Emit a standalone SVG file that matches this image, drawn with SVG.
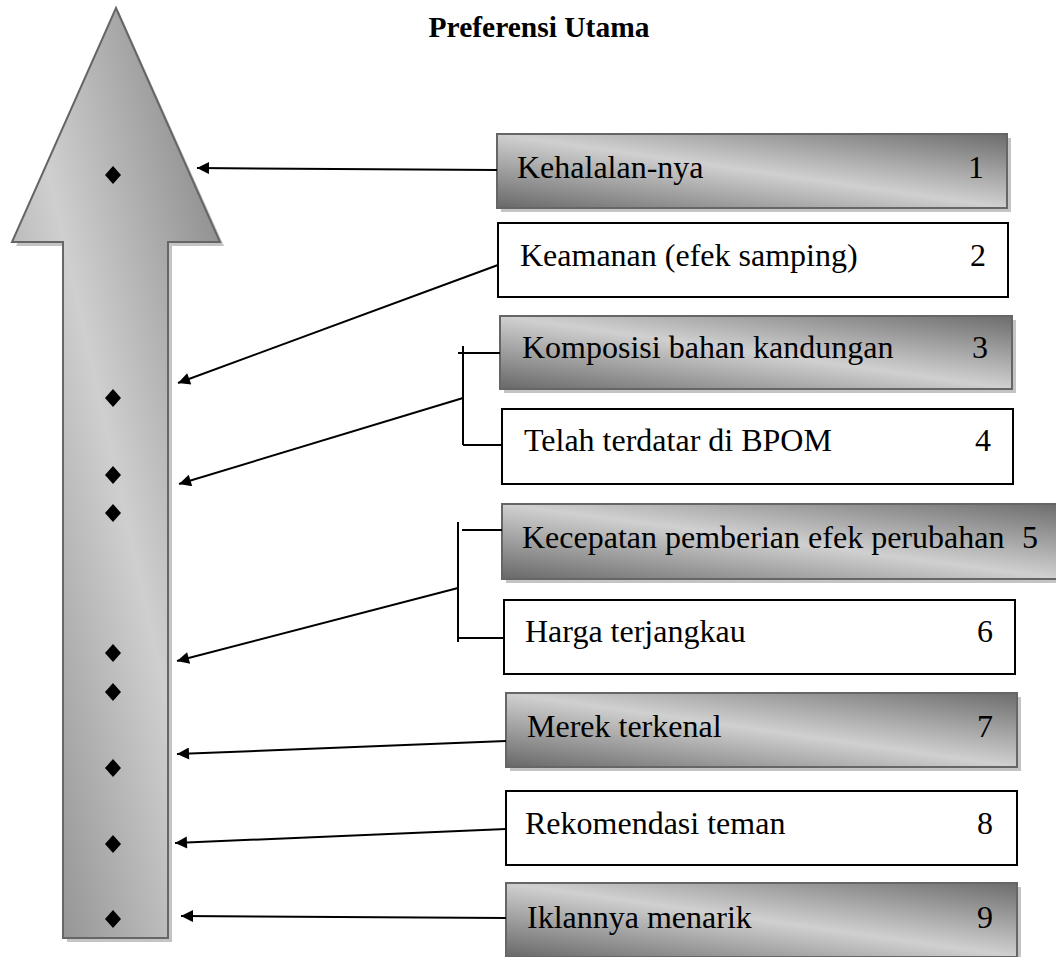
<svg xmlns="http://www.w3.org/2000/svg" width="1056" height="957" viewBox="0 0 1056 957">
<defs>
<linearGradient id="boxGrad" x1="0" y1="1" x2="1" y2="0">
<stop offset="0" stop-color="#686868"/>
<stop offset="0.5" stop-color="#d0d0d0"/>
<stop offset="1" stop-color="#6c6c6c"/>
</linearGradient>
<linearGradient id="arrowGrad" x1="0" y1="1" x2="1" y2="0">
<stop offset="0" stop-color="#838383"/>
<stop offset="0.5" stop-color="#cfcfcf"/>
<stop offset="1" stop-color="#7e7e7e"/>
</linearGradient>
<marker id="ah" viewBox="0 0 10 10" refX="10" refY="5" markerWidth="15" markerHeight="12" markerUnits="userSpaceOnUse" orient="auto">
<path d="M0,0 L10,5 L0,10 z" fill="#000"/>
</marker>
</defs>
<style>
.t{font-family:"Liberation Serif","Times New Roman",serif;font-size:32px;fill:#000}
.title{font-family:"Liberation Serif","Times New Roman",serif;font-size:29.5px;font-weight:bold;fill:#000}
.g{fill:url(#boxGrad);stroke:#666;stroke-width:2}
.w{fill:#fff;stroke:#000;stroke-width:2}
.sh{fill:#c4c4c4}
.c{fill:none;stroke:#000;stroke-width:2}
.ca{fill:none;stroke:#000;stroke-width:2;marker-end:url(#ah)}
.d{fill:#000}
</style>
<rect width="1056" height="957" fill="#fff"/>
<text class="title" x="539" y="37" text-anchor="middle">Preferensi Utama</text>
<g id="arrow">
<polygon class="sh" points="119,12 224,246 172,246 172,942 67,942 67,246 16,246"/>
<polygon points="116,8 220,242 168,242 168,938 63,938 63,242 12,242" fill="url(#arrowGrad)" stroke="#666" stroke-width="2"/>
<polygon class="d" points="113,166 121,175 113,184 105,175"/>
<polygon class="d" points="113,389 121,398 113,407 105,398"/>
<polygon class="d" points="113,466 121,475 113,484 105,475"/>
<polygon class="d" points="113,504 121,513 113,522 105,513"/>
<polygon class="d" points="113,644 121,653 113,662 105,653"/>
<polygon class="d" points="113,683 121,692 113,701 105,692"/>
<polygon class="d" points="113,759 121,768 113,777 105,768"/>
<polygon class="d" points="113,835 121,844 113,853 105,844"/>
<polygon class="d" points="113,910 121,919 113,928 105,919"/>
</g>
<g id="n1">
<rect class="sh" x="501" y="138" width="510" height="74"/>
<rect class="g" x="497" y="134" width="510" height="74"/>
<text class="t" x="517" y="178">Kehalalan-nya</text>
<text class="t" x="984" y="178" text-anchor="end">1</text>
</g>
<g id="n2">
<rect class="w" x="498" y="223" width="510" height="74"/>
<text class="t" x="520" y="266">Keamanan (efek samping)</text>
<text class="t" x="986" y="266" text-anchor="end">2</text>
</g>
<g id="n3">
<rect class="sh" x="504" y="320" width="512" height="73"/>
<rect class="g" x="500" y="316" width="512" height="73"/>
<text class="t" x="522" y="358">Komposisi bahan kandungan</text>
<text class="t" x="988" y="358" text-anchor="end">3</text>
</g>
<g id="n4">
<rect class="w" x="502" y="409" width="511" height="75"/>
<text class="t" x="524" y="451">Telah terdatar di BPOM</text>
<text class="t" x="991" y="451" text-anchor="end">4</text>
</g>
<g id="n5">
<rect class="sh" x="506" y="508" width="560" height="75"/>
<rect class="g" x="502" y="504" width="560" height="75"/>
<text class="t" x="522" y="548">Kecepatan pemberian efek perubahan</text>
<text class="t" x="1038" y="548" text-anchor="end">5</text>
</g>
<g id="n6">
<rect class="w" x="504" y="600" width="511" height="74"/>
<text class="t" x="525" y="642">Harga terjangkau</text>
<text class="t" x="993" y="642" text-anchor="end">6</text>
</g>
<g id="n7">
<rect class="sh" x="510" y="697" width="511" height="74"/>
<rect class="g" x="506" y="693" width="511" height="74"/>
<text class="t" x="527" y="737">Merek terkenal</text>
<text class="t" x="993" y="737" text-anchor="end">7</text>
</g>
<g id="n8">
<rect class="w" x="506" y="791" width="511" height="74"/>
<text class="t" x="525" y="834">Rekomendasi teman</text>
<text class="t" x="993" y="834" text-anchor="end">8</text>
</g>
<g id="n9">
<rect class="sh" x="510" y="887" width="511" height="74"/>
<rect class="g" x="506" y="883" width="511" height="74"/>
<text class="t" x="527" y="928">Iklannya menarik</text>
<text class="t" x="993" y="928" text-anchor="end">9</text>
</g>
<g id="connectors">
<line class="ca" x1="497" y1="170" x2="197" y2="168"/>
<line class="ca" x1="498" y1="265" x2="178" y2="383"/>
<path class="c" d="M458,353 H500 M463,346 V445 M463,445 H502"/>
<line class="ca" x1="463" y1="398" x2="179" y2="484"/>
<path class="c" d="M462,530 H502 M458,522 V642 M458,638 H504"/>
<line class="ca" x1="458" y1="588" x2="177" y2="661"/>
<line class="ca" x1="506" y1="741" x2="177" y2="754"/>
<line class="ca" x1="506" y1="829" x2="175" y2="843"/>
<line class="ca" x1="506" y1="918" x2="181" y2="916"/>
</g>
</svg>
